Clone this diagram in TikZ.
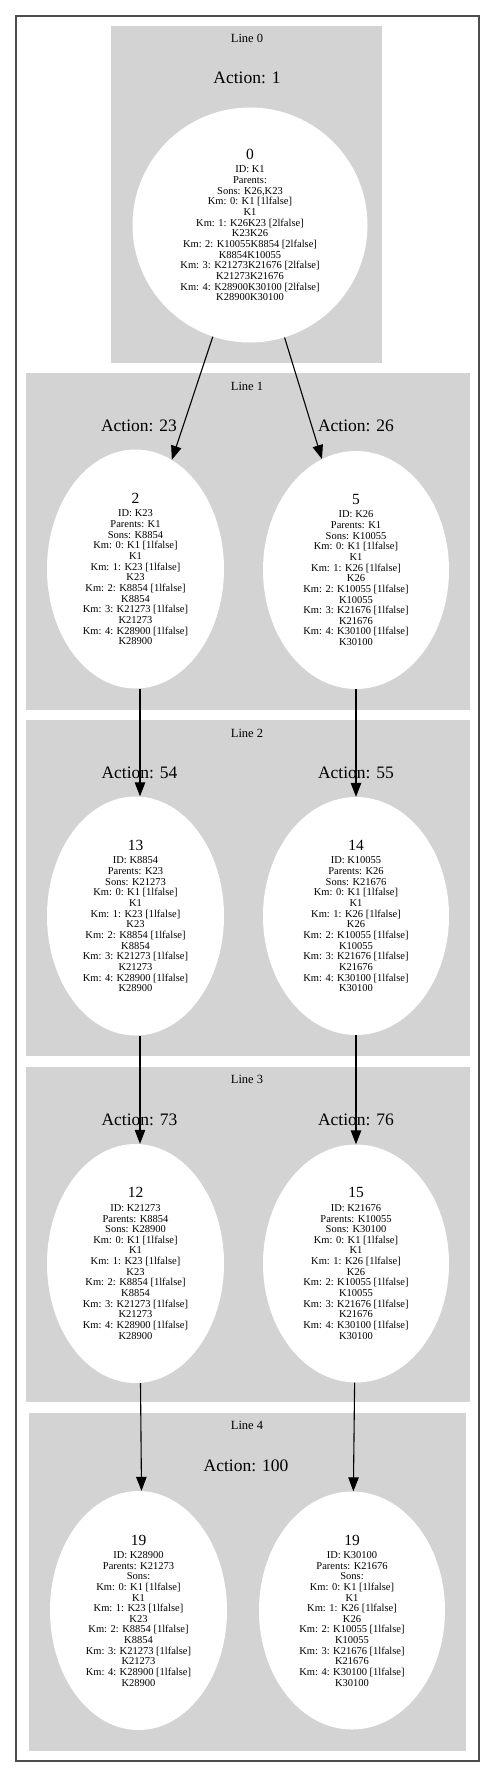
\documentclass[tikz,border=0pt]{standalone}
\usepackage{fontspec}
\setmainfont{Liberation Serif}
\usetikzlibrary{arrows.meta, shapes.geometric}
\definecolor{cluster-fill}{HTML}{D3D3D3}
\definecolor{frame}{HTML}{4D4D4D}
\tikzset{
  cluster/.style={fill=cluster-fill},
  linelbl/.style={anchor=base, font=\fontsize{12.5}{15}\selectfont},
  actlbl/.style={anchor=base, font=\fontsize{17.5}{21}\selectfont},
  stnode/.style={
    ellipse, fill=white, inner sep=0pt, align=center,
    font=\fontsize{10.5}{10.65}\selectfont
  },
  leftst/.style={stnode, minimum width=177pt, minimum height=239pt},
  rightst/.style={stnode, minimum width=186pt, minimum height=238pt},
  trans/.style={-{Triangle[length=14pt, width=10.5pt]}, line width=1.1pt}
}
\newcommand{\stnum}[1]{{\fontsize{15.5}{15.5}\selectfont #1}\\[2.75pt]}
\newcommand{\kmleft}{Km: 0: K1 [1lfalse]\\K1\\Km: 1: K23 [1lfalse]\\K23\\
  Km: 2: K8854 [1lfalse]\\K8854\\Km: 3: K21273 [1lfalse]\\K21273\\
  Km: 4: K28900 [1lfalse]\\K28900}
\newcommand{\kmright}{Km: 0: K1 [1lfalse]\\K1\\Km: 1: K26 [1lfalse]\\K26\\
  Km: 2: K10055 [1lfalse]\\K10055\\Km: 3: K21676 [1lfalse]\\K21676\\
  Km: 4: K30100 [1lfalse]\\K30100}

\begin{document}
\begin{tikzpicture}[x=1pt, y=-1pt]
  \useasboundingbox (0,0) rectangle (496,1777);

  % ---- outer frame ---------------------------------------------------------
  \draw[frame, line width=1.5pt] (16,16) rectangle (479,1761);

  % ---- Line 0 --------------------------------------------------------------
  \fill[cluster] (111,26) rectangle (382,363);
  \node[linelbl] (l0) at (247,42.7) {Line 0};
  \node[actlbl] (a1) at (247,84) {Action: 1};
  \node[stnode, circle, minimum size=235pt] (s0) at (250,225) {\stnum{0}ID: K1\\Parents:\\Sons: K26,K23\\
    Km: 0: K1 [1lfalse]\\K1\\Km: 1: K26K23 [2lfalse]\\K23K26\\
    Km: 2: K10055K8854 [2lfalse]\\K8854K10055\\
    Km: 3: K21273K21676 [2lfalse]\\K21273K21676\\
    Km: 4: K28900K30100 [2lfalse]\\K28900K30100};

  % ---- Line 1 --------------------------------------------------------------
  \fill[cluster] (26,373) rectangle (470,710);
  \node[linelbl] (l1) at (247,390) {Line 1};
  \node[actlbl] (a23) at (139,431) {Action: 23};
  \node[actlbl] (a26) at (356,431) {Action: 26};
  \node[leftst] (s2) at (135.5,569) {\stnum{2}ID: K23\\Parents: K1\\Sons: K8854\\\kmleft};
  \node[rightst] (s5) at (356,570) {\stnum{5}ID: K26\\Parents: K1\\Sons: K10055\\\kmright};

  % ---- Line 2 --------------------------------------------------------------
  \fill[cluster] (26,720) rectangle (470,1056);
  \node[linelbl] (l2) at (247,737) {Line 2};
  \node[actlbl] (a54) at (139.5,778) {Action: 54};
  \node[actlbl] (a55) at (356,778) {Action: 55};
  \node[leftst] (s13) at (135.5,916) {\stnum{13}ID: K8854\\Parents: K23\\Sons: K21273\\\kmleft};
  \node[rightst] (s14) at (356,916) {\stnum{14}ID: K10055\\Parents: K26\\Sons: K21676\\\kmright};

  % ---- Line 3 --------------------------------------------------------------
  \fill[cluster] (26,1067) rectangle (470,1402);
  \node[linelbl] (l3) at (247,1083.5) {Line 3};
  \node[actlbl] (a73) at (139.5,1125) {Action: 73};
  \node[actlbl] (a76) at (356,1125) {Action: 76};
  \node[leftst] (s12) at (135.5,1263.5) {\stnum{12}ID: K21273\\Parents: K8854\\Sons: K28900\\\kmleft};
  \node[rightst] (s15) at (356,1263.5) {\stnum{15}ID: K21676\\Parents: K10055\\Sons: K30100\\\kmright};

  % ---- Line 4 --------------------------------------------------------------
  \fill[cluster] (29,1413) rectangle (466,1751);
  \node[linelbl] (l4) at (247,1429.5) {Line 4};
  \node[actlbl] (a100) at (246,1471) {Action: 100};
  \node[leftst] (s19a) at (138.5,1610.5) {\stnum{19}ID: K28900\\Parents: K21273\\Sons:\\\kmleft};
  \node[rightst] (s19b) at (352,1610.5) {\stnum{19}ID: K30100\\Parents: K21676\\Sons:\\\kmright};

  % ---- transitions ---------------------------------------------------------
  \draw[trans] (s0) -- (s2);
  \draw[trans] (s0) -- (s5);
  \draw[trans] ([xshift=4.5pt]s2.south) -- ([xshift=4.5pt]s13.north);
  \draw[trans] (s5) -- (s14);
  \draw[trans] ([xshift=4.5pt]s13.south) -- ([xshift=4.5pt]s12.north);
  \draw[trans] (s14) -- (s15);
  \draw[trans] ([xshift=5pt]s12.south) -- ([xshift=3pt]s19a.north);
  \draw[trans] (s15) -- (s19b);

\end{tikzpicture}
\end{document}
